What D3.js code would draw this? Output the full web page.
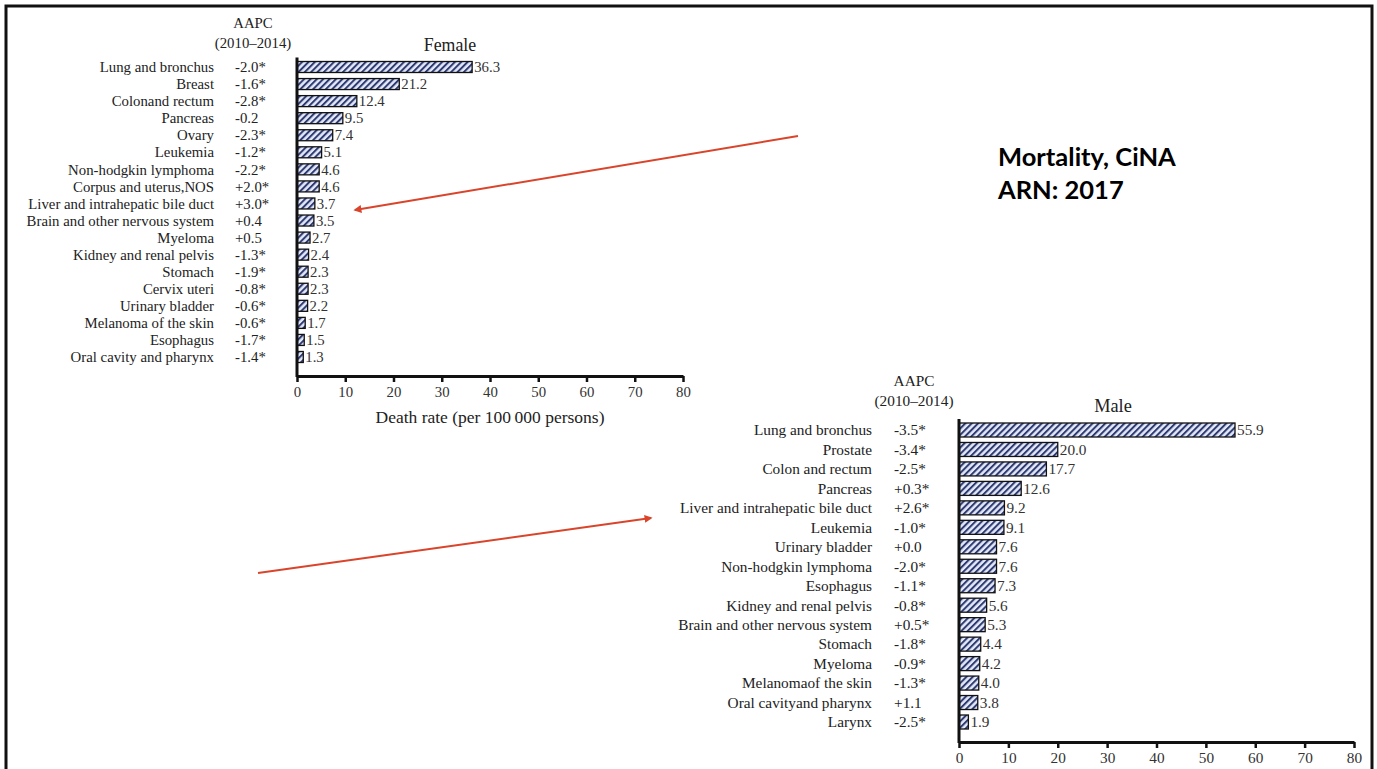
<!DOCTYPE html>
<html lang="en">
<head>
<meta charset="UTF-8" />
<title>Mortality, CiNA ARN: 2017</title>
<script src="https://d3js.org/d3.v7.min.js"></script>
<style>
  * { margin: 0; padding: 0; box-sizing: border-box; }
  body { background: #fff; width: 1377px; height: 769px; overflow: hidden; }
  svg text { font-family: "Liberation Serif", "Times New Roman", serif; fill: #222; }
  .note { font-family: Lato, "Open Sans", sans-serif !important; font-weight: bold; fill: #000 !important; }
</style>
</head>
<body>
<svg width="1377" height="769"></svg>
<script>
// ---- data ----
var femaleSites = ["Lung and bronchus", "Breast", "Colonand rectum", "Pancreas", "Ovary", "Leukemia",
  "Non-hodgkin lymphoma", "Corpus and uterus,NOS", "Liver and intrahepatic bile duct",
  "Brain and other nervous system", "Myeloma", "Kidney and renal pelvis", "Stomach", "Cervix uteri",
  "Urinary bladder", "Melanoma of the skin", "Esophagus", "Oral cavity and pharynx"];
var femaleAapc = ["-2.0*", "-1.6*", "-2.8*", "-0.2", "-2.3*", "-1.2*", "-2.2*", "+2.0*", "+3.0*",
  "+0.4", "+0.5", "-1.3*", "-1.9*", "-0.8*", "-0.6*", "-0.6*", "-1.7*", "-1.4*"];
var femaleRates = [36.3, 21.2, 12.4, 9.5, 7.4, 5.1, 4.6, 4.6, 3.7, 3.5, 2.7, 2.4, 2.3, 2.3, 2.2, 1.7, 1.5, 1.3];

var maleSites = ["Lung and bronchus", "Prostate", "Colon and rectum", "Pancreas",
  "Liver and intrahepatic bile duct", "Leukemia", "Urinary bladder", "Non-hodgkin lymphoma",
  "Esophagus", "Kidney and renal pelvis", "Brain and other nervous system", "Stomach", "Myeloma",
  "Melanomaof the skin", "Oral cavityand pharynx", "Larynx"];
var maleAapc = ["-3.5*", "-3.4*", "-2.5*", "+0.3*", "+2.6*", "-1.0*", "+0.0", "-2.0*", "-1.1*",
  "-0.8*", "+0.5*", "-1.8*", "-0.9*", "-1.3*", "+1.1", "-2.5*"];
var maleRates = [55.9, 20.0, 17.7, 12.6, 9.2, 9.1, 7.6, 7.6, 7.3, 5.6, 5.3, 4.4, 4.2, 4.0, 3.8, 1.9];

var tickValues = [0, 10, 20, 30, 40, 50, 60, 70, 80];

var svg = d3.select("svg");

// slide frame
svg.append("path")
  .attr("d", "M6,775 V6 H1372 V775")
  .attr("fill", "none")
  .attr("stroke", "#111")
  .attr("stroke-width", 3);

// hatch pattern for the bars
var defs = svg.append("defs");
var pat = defs.append("pattern")
  .attr("id", "hatch")
  .attr("patternUnits", "userSpaceOnUse")
  .attr("width", 4.5)
  .attr("height", 4.5)
  .attr("patternTransform", "rotate(45)");
pat.append("rect").attr("width", 4.5).attr("height", 4.5).attr("fill", "#e4e9f8");
pat.append("rect").attr("width", 2).attr("height", 4.5).attr("fill", "#2e3a72");

// draws one panel
function drawPanel(opt) {
  var g = svg.append("g");

  var x = d3.scaleLinear().domain([0, 80]).range([opt.x0, opt.x1]);
  var y = d3.scalePoint().domain(opt.sites).range([opt.yFirst, opt.yLast]);

  // bars
  g.selectAll("rect.bar")
    .data(opt.rates)
    .enter()
    .append("rect")
    .attr("class", "bar")
    .attr("x", x(0))
    .attr("y", function(d, i) { return y(opt.sites[i]) - opt.barH / 2; })
    .attr("width", function(d) { return x(d) - x(0); })
    .attr("height", opt.barH)
    .attr("fill", "url(#hatch)")
    .attr("stroke", "#111")
    .attr("stroke-width", 1.3);

  // value labels
  g.selectAll("text.val")
    .data(opt.rates)
    .enter()
    .append("text")
    .attr("x", function(d) { return x(d) + 2; })
    .attr("y", function(d, i) { return y(opt.sites[i]); })
    .attr("dy", "0.35em")
    .attr("font-size", opt.fs + "px")
    .style("fill", "#333")
    .text(function(d) { return d.toFixed(1); });

  // site names
  g.selectAll("text.site")
    .data(opt.sites)
    .enter()
    .append("text")
    .attr("x", opt.labelX)
    .attr("y", function(d) { return y(d); })
    .attr("dy", "0.35em")
    .attr("text-anchor", "end")
    .attr("font-size", opt.fs + "px")
    .text(function(d) { return d; });

  // AAPC column
  g.selectAll("text.aapc")
    .data(opt.aapc)
    .enter()
    .append("text")
    .attr("x", opt.aapcX)
    .attr("y", function(d, i) { return y(opt.sites[i]); })
    .attr("dy", "0.35em")
    .attr("font-size", opt.fs + "px")
    .text(function(d) { return d; });

  // headers
  g.append("text").attr("x", opt.headX).attr("y", opt.headY).attr("text-anchor", "middle")
    .attr("font-size", opt.fs + "px").text("AAPC");
  g.append("text").attr("x", opt.headX).attr("y", opt.headY + 20).attr("text-anchor", "middle")
    .attr("font-size", opt.fs + "px").text("(2010\u20132014)");
  g.append("text").attr("x", opt.titleX).attr("y", opt.titleY).attr("text-anchor", "middle")
    .attr("font-size", (opt.fs + 3) + "px").text(opt.title);

  // x axis
  var xAxis = d3.axisBottom(x).tickValues(tickValues).tickSize(6).tickSizeOuter(0).tickPadding(4);
  var ax = g.append("g")
    .attr("transform", "translate(0," + opt.axisY + ")")
    .call(xAxis);
  ax.select(".domain").attr("stroke", "#111").attr("stroke-width", 3);
  ax.selectAll(".tick line").attr("stroke", "#111").attr("stroke-width", 2.5);
  ax.selectAll(".tick text")
    .attr("font-family", "Liberation Serif, serif")
    .attr("font-size", opt.fs + "px")
    .style("fill", "#333");

  // vertical baseline
  g.append("line")
    .attr("x1", x(0)).attr("x2", x(0))
    .attr("y1", opt.yFirst - opt.barH / 2 - 4).attr("y2", opt.axisY + 1)
    .attr("stroke", "#111")
    .attr("stroke-width", 3);

  if (opt.xLabel) {
    g.append("text")
      .attr("x", (opt.x0 + opt.x1) / 2)
      .attr("y", opt.axisY + 47)
      .attr("text-anchor", "middle")
      .attr("font-size", "17.5px")
      .text(opt.xLabel);
  }
}

drawPanel({
  sites: femaleSites, aapc: femaleAapc, rates: femaleRates,
  x0: 297, x1: 683, yFirst: 67, yLast: 357, barH: 11, axisY: 376,
  labelX: 214, aapcX: 235, headX: 253, headY: 28, titleX: 450, titleY: 51,
  fs: 14.8, title: "Female", xLabel: "Death rate (per 100\u2009000 persons)"
});

drawPanel({
  sites: maleSites, aapc: maleAapc, rates: maleRates,
  x0: 959, x1: 1354, yFirst: 430, yLast: 722, barH: 14, axisY: 742,
  labelX: 872, aapcX: 894, headX: 914, headY: 386, titleX: 1113, titleY: 412,
  fs: 15.3, title: "Male", xLabel: null
});

// red arrows
defs.append("marker")
  .attr("id", "arrow")
  .attr("viewBox", "0 0 10 10")
  .attr("refX", 8).attr("refY", 5)
  .attr("markerWidth", 4).attr("markerHeight", 4)
  .attr("orient", "auto")
  .append("path").attr("d", "M0,0 L10,5 L0,10 z").attr("fill", "#d9442b");

var arrows = [[798, 136, 355, 210], [258, 573, 651, 518]];
svg.selectAll("line.arrow")
  .data(arrows)
  .enter()
  .append("line")
  .attr("x1", function(d) { return d[0]; })
  .attr("y1", function(d) { return d[1]; })
  .attr("x2", function(d) { return d[2]; })
  .attr("y2", function(d) { return d[3]; })
  .attr("stroke", "#d9442b")
  .attr("stroke-width", 2)
  .attr("marker-end", "url(#arrow)");

// note
svg.append("text").attr("class", "note").attr("x", 998).attr("y", 166)
  .attr("font-size", "25.5px").text("Mortality, CiNA");
svg.append("text").attr("class", "note").attr("x", 998).attr("y", 199)
  .attr("font-size", "25.5px").text("ARN: 2017");
</script>
</body>
</html>
